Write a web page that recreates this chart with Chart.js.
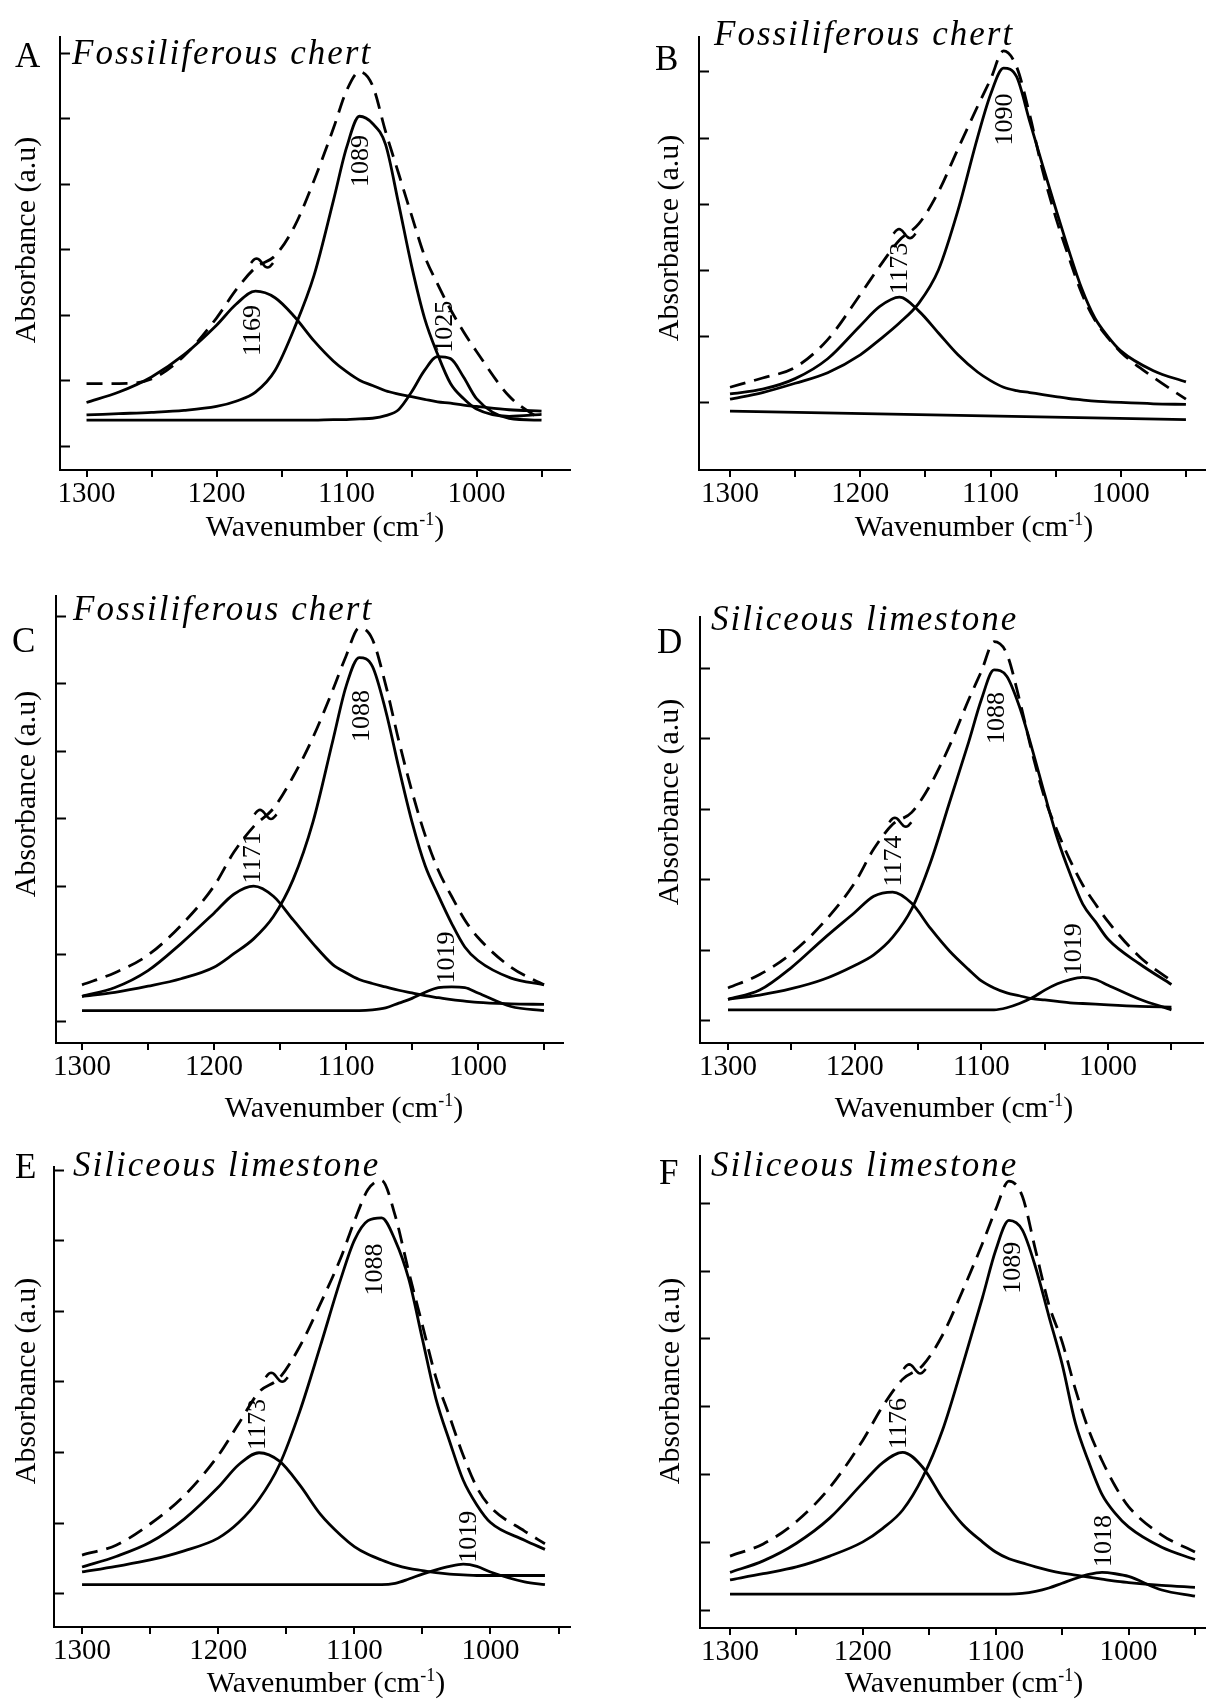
<!DOCTYPE html>
<html>
<head>
<meta charset="utf-8">
<script src="https://cdn.jsdelivr.net/npm/chart.js@4.4.0/dist/chart.umd.min.js"></script>
<style>
  body { margin:0; background:#fff; width:1206px; height:1702px; position:relative; overflow:hidden; }
  canvas { position:absolute; }
</style>
</head>
<body>
<script>
// wavenumber grid (cm-1) the curves were read on
var wave  = [1300,1275,1250,1225,1200,1185,1170,1155,1140,1125,1110,1100,1090,1080,1070,1060,1050,1040,1030,1020,1010,1000,975,950];
var waveE = [1300,1275,1250,1225,1200,1185,1170,1155,1140,1125,1110,1100,1090,1080,1070,1060,1050,1040,1030,1020,1010,1000,975,960];
var xTickValues = [950,1000,1050,1100,1150,1200,1250,1300];

// A - Fossiliferous chert
var envA  = [0.95,0.95,1.02,1.37,1.95,2.38,2.72,2.9,3.35,4.05,4.85,5.42,5.71,5.5,4.8,4.16,3.52,2.9,2.47,2.08,1.74,1.44,0.76,0.39];
var a1089 = [0.47,0.49,0.51,0.54,0.6,0.68,0.82,1.15,1.8,2.6,3.75,4.55,5.03,4.92,4.6,3.7,2.75,1.95,1.4,0.95,0.72,0.56,0.45,0.48];
var a1169 = [0.66,0.82,1.05,1.39,1.84,2.16,2.36,2.26,1.97,1.6,1.29,1.13,1.0,0.92,0.84,0.79,0.75,0.71,0.67,0.65,0.62,0.6,0.55,0.53];
var a1025 = [0.39,0.39,0.39,0.39,0.39,0.39,0.39,0.39,0.39,0.39,0.4,0.4,0.41,0.42,0.46,0.55,0.82,1.15,1.36,1.33,1.05,0.72,0.42,0.39];

// B - Fossiliferous chert
var envB  = [0.23,0.37,0.53,0.95,1.63,2.06,2.45,2.7,3.18,3.83,4.47,4.88,5.31,5.07,4.35,3.5,2.8,2.2,1.65,1.25,0.98,0.76,0.38,0.05];
var b1090 = [0.05,0.15,0.29,0.45,0.72,0.95,1.2,1.5,2.0,2.9,4.0,4.65,5.05,4.92,4.25,3.58,2.93,2.3,1.72,1.28,1.0,0.78,0.48,0.31];
var b1173 = [0.13,0.2,0.36,0.66,1.16,1.45,1.59,1.38,1.05,0.72,0.46,0.33,0.23,0.18,0.15,0.12,0.09,0.06,0.04,0.02,0.01,0.0,-0.02,-0.03];
var baseBWave = [1300,950];
var baseB = [-0.13,-0.26];

// C - Fossiliferous chert
var envC  = [0.54,0.72,0.98,1.42,2.0,2.5,2.88,3.15,3.62,4.2,4.9,5.4,5.82,5.65,4.98,4.15,3.4,2.75,2.23,1.85,1.5,1.24,0.8,0.54];
var c1088 = [0.37,0.43,0.52,0.63,0.8,1.0,1.22,1.55,2.1,2.95,4.15,4.95,5.38,5.25,4.6,3.75,2.95,2.3,1.86,1.45,1.1,0.9,0.64,0.54];
var c1171 = [0.37,0.5,0.75,1.15,1.6,1.88,2.0,1.85,1.5,1.15,0.84,0.72,0.62,0.56,0.51,0.46,0.42,0.38,0.35,0.32,0.3,0.28,0.26,0.25];
var c1019 = [0.16,0.16,0.16,0.16,0.16,0.16,0.16,0.16,0.16,0.16,0.16,0.16,0.16,0.17,0.2,0.27,0.34,0.43,0.5,0.51,0.5,0.42,0.22,0.16];

// D - Siliceous limestone
var envD  = [0.46,0.65,0.95,1.38,1.95,2.43,2.78,2.95,3.35,3.9,4.55,4.95,5.37,5.2,4.55,3.8,3.15,2.68,2.27,1.92,1.65,1.4,0.9,0.56];
var d1088 = [0.3,0.36,0.45,0.58,0.78,0.93,1.18,1.58,2.25,3.1,3.95,4.55,4.97,4.88,4.45,3.85,3.2,2.58,2.08,1.65,1.4,1.15,0.8,0.51];
var d1174 = [0.3,0.43,0.75,1.15,1.53,1.76,1.82,1.66,1.3,0.98,0.72,0.56,0.46,0.39,0.35,0.31,0.29,0.27,0.25,0.24,0.23,0.22,0.2,0.19];
var d1019 = [0.15,0.15,0.15,0.15,0.15,0.15,0.15,0.15,0.15,0.15,0.15,0.15,0.15,0.18,0.24,0.32,0.43,0.52,0.58,0.61,0.58,0.5,0.3,0.15];

// E - Siliceous limestone
var envE  = [0.54,0.68,0.98,1.38,1.95,2.4,2.85,3.05,3.5,4.1,4.75,5.27,5.72,5.85,5.35,4.55,3.8,3.05,2.5,1.95,1.5,1.22,0.88,0.7];
var e1088 = [0.3,0.38,0.47,0.6,0.78,1.0,1.33,1.82,2.58,3.5,4.45,5.0,5.28,5.32,5.0,4.45,3.6,2.75,2.15,1.6,1.25,1.0,0.75,0.62];
var e1173 = [0.37,0.52,0.72,1.05,1.5,1.82,1.99,1.87,1.53,1.12,0.82,0.66,0.55,0.47,0.4,0.35,0.32,0.29,0.27,0.26,0.25,0.25,0.25,0.25];
var e1019 = [0.12,0.12,0.12,0.12,0.12,0.12,0.12,0.12,0.12,0.12,0.12,0.12,0.12,0.12,0.14,0.2,0.27,0.33,0.38,0.41,0.38,0.3,0.16,0.12];

// F - Siliceous limestone
var envF  = [0.79,0.97,1.3,1.8,2.5,3.0,3.4,3.6,4.05,4.7,5.4,5.9,6.32,6.1,5.3,4.5,3.95,3.25,2.65,2.2,1.82,1.52,1.1,0.85];
var f1089 = [0.44,0.53,0.63,0.79,1.0,1.2,1.47,1.95,2.65,3.6,4.6,5.3,5.74,5.6,5.05,4.33,3.62,2.75,2.18,1.7,1.42,1.22,0.92,0.74];
var f1176 = [0.55,0.72,0.98,1.35,1.87,2.17,2.32,2.1,1.64,1.26,1.0,0.85,0.75,0.69,0.63,0.58,0.54,0.51,0.48,0.45,0.42,0.4,0.36,0.33];
var f1018 = [0.23,0.23,0.23,0.23,0.23,0.23,0.23,0.23,0.23,0.23,0.23,0.23,0.23,0.24,0.27,0.32,0.39,0.46,0.52,0.55,0.53,0.49,0.29,0.2];

// layout of each panel (page pixels) and annotation anchors
var panels = [
  {letter:'A', title:'Fossiliferous chert', cell:[0,0,603,560], area:[60,570,37,470], xr:[928.1,1320.4], yr:[-0.37,6.24], nTicks:6,
   wave:wave, env:envA, comps:[a1089,a1169,a1025], base:null,
   peaks:[['1089',1089,3.95],['1169',1172,1.37],['1025',1024,1.42]], tilde:[1165,2.79],
   letterPos:[15,67], titlePos:[72,64], yTitle:[27,240], xTitle:[325,536]},
  {letter:'B', title:'Fossiliferous chert', cell:[603,0,603,560], area:[699,1206,37,470], xr:[934.6,1323.8], yr:[-1.02,5.52], nTicks:5,
   wave:wave, env:envB, comps:[b1090,b1173], base:[baseBWave,baseB],
   peaks:[['1090',1089,3.88],['1173',1169,1.64]], tilde:[1166,2.55],
   letterPos:[655,70], titlePos:[714,45], yTitle:[670,238], xTitle:[974,536]},
  {letter:'C', title:'Fossiliferous chert', cell:[0,560,603,570], area:[56,563,596,1043], xr:[935.6,1319.7], yr:[-0.32,6.29], nTicks:6,
   wave:wave, env:envC, comps:[c1088,c1171,c1019], base:null,
   peaks:[['1088',1088,4.13],['1171',1170,2.04],['1019',1023,0.56]], tilde:[1161,3.06],
   letterPos:[12,652], titlePos:[73,620], yTitle:[27,794], xTitle:[344,1117]},
  {letter:'D', title:'Siliceous limestone', cell:[603,560,603,570], area:[700,1203,617,1043], xr:[925.1,1322.1], yr:[-0.32,5.72], nTicks:5,
   wave:wave, env:envD, comps:[d1088,d1174,d1019], base:null,
   peaks:[['1088',1087.5,3.92],['1174',1169,1.9],['1019',1027,0.64]], tilde:[1164,2.81],
   letterPos:[657,653], titlePos:[711,630], yTitle:[670,802], xTitle:[954,1117]},
  {letter:'E', title:'Siliceous limestone', cell:[0,1130,603,572], area:[54,570,1167,1627], xr:[941.6,1320.6], yr:[-0.48,6.04], nTicks:6,
   wave:waveE, env:envE, comps:[e1088,e1173,e1019], base:null,
   peaks:[['1088',1085,4.22],['1173',1171,2.03],['1019',1016,0.43]], tilde:[1157,3.06],
   letterPos:[15,1178], titlePos:[73,1176], yTitle:[27,1381], xTitle:[326,1692]},
  {letter:'F', title:'Siliceous limestone', cell:[603,1130,603,572], area:[700,1206,1156,1628], xr:[941.7,1322.6], yr:[-0.27,6.69], nTicks:6,
   wave:wave, env:envF, comps:[f1089,f1176,f1018], base:null,
   peaks:[['1089',1087,4.66],['1176',1173,2.37],['1018',1018,0.63]], tilde:[1161,3.55],
   letterPos:[659,1184], titlePos:[711,1176], yTitle:[671,1381], xTitle:[964,1692]}
];

var SERIF = '"Liberation Serif", "Times New Roman", serif';
Chart.defaults.font.family = SERIF;
Chart.defaults.color = '#000';

function pts(w, v) {
  return w.map(function(x, i) { return {x: x, y: v[i]}; });
}

function makeDecor(p) {
  return {
    id: 'decor',
    afterDraw: function(chart) {
      var ctx = chart.ctx, xs = chart.scales.x, ys = chart.scales.y;
      var ox = p.cell[0], oy = p.cell[1];
      ctx.save();
      ctx.fillStyle = '#000';
      ctx.strokeStyle = '#000';

      // inward ticks on the y axis
      ctx.lineWidth = 2;
      ys.ticks.forEach(function(t) {
        var y = Math.round(ys.getPixelForValue(t.value)) + 0.5;
        ctx.beginPath();
        ctx.moveTo(chart.chartArea.left, y);
        ctx.lineTo(chart.chartArea.left + 10, y);
        ctx.stroke();
      });

      // panel letter and sample name
      ctx.textAlign = 'left';
      ctx.textBaseline = 'alphabetic';
      ctx.font = '35px ' + SERIF;
      ctx.fillText(p.letter, p.letterPos[0] - ox, p.letterPos[1] - oy);
      ctx.font = 'italic 35px ' + SERIF;
      ctx.letterSpacing = '2px';
      ctx.fillText(p.title, p.titlePos[0] - ox, p.titlePos[1] - oy);
      ctx.letterSpacing = '0px';

      // y axis title
      ctx.save();
      ctx.translate(p.yTitle[0] - ox, p.yTitle[1] - oy);
      ctx.rotate(-Math.PI / 2);
      ctx.font = '30px ' + SERIF;
      ctx.textAlign = 'center';
      ctx.textBaseline = 'middle';
      ctx.fillText('Absorbance (a.u)', 0, 0);
      ctx.restore();

      // x axis title with superscript -1
      var big = '30px ' + SERIF, sm = '18px ' + SERIF;
      ctx.font = big;
      var s1 = 'Wavenumber (cm', s3 = ')';
      var w1 = ctx.measureText(s1).width, w3 = ctx.measureText(s3).width;
      ctx.font = sm;
      var w2 = ctx.measureText('-1').width;
      var x0 = p.xTitle[0] - ox - (w1 + w2 + w3) / 2, yb = p.xTitle[1] - oy;
      ctx.font = big;
      ctx.fillText(s1, x0, yb);
      ctx.font = sm;
      ctx.fillText('-1', x0 + w1, yb - 11);
      ctx.font = big;
      ctx.fillText(s3, x0 + w1 + w2, yb);

      // peak position labels, rotated
      ctx.font = '26px ' + SERIF;
      p.peaks.forEach(function(pk) {
        ctx.save();
        ctx.translate(xs.getPixelForValue(pk[1]), ys.getPixelForValue(pk[2]));
        ctx.rotate(-Math.PI / 2);
        ctx.textAlign = 'left';
        ctx.textBaseline = 'middle';
        ctx.fillText(pk[0], 0, 0);
        ctx.restore();
      });

      // shoulder mark (~) on the envelope
      var tx = xs.getPixelForValue(p.tilde[0]), ty = ys.getPixelForValue(p.tilde[1]);
      ctx.lineWidth = 2.6;
      ctx.beginPath();
      for (var i = 0; i <= 24; i++) {
        var t = i / 24;
        var px = tx - 11 + 22 * t, py = ty - 4.5 * Math.sin(2 * Math.PI * t);
        if (i === 0) ctx.moveTo(px, py); else ctx.lineTo(px, py);
      }
      ctx.stroke();
      ctx.restore();
    }
  };
}

panels.forEach(function(p) {
  var cv = document.createElement('canvas');
  cv.width = p.cell[2];
  cv.height = p.cell[3];
  cv.style.left = p.cell[0] + 'px';
  cv.style.top = p.cell[1] + 'px';
  cv.style.width = p.cell[2] + 'px';
  cv.style.height = p.cell[3] + 'px';
  document.body.appendChild(cv);

  var line = {borderColor:'#000', borderWidth:2.8, pointRadius:0, fill:false, cubicInterpolationMode:'monotone'};
  var ds = [Object.assign({data: pts(p.wave, p.env), borderDash:[16, 9]}, line)];
  p.comps.forEach(function(c) { ds.push(Object.assign({data: pts(p.wave, c)}, line)); });
  if (p.base) ds.push(Object.assign({data: pts(p.base[0], p.base[1])}, line));

  var yTickVals = [];
  for (var k = 0; k <= p.nTicks; k++) yTickVals.push(k);

  var cell = p.cell, area = p.area;
  new Chart(cv.getContext('2d'), {
    type: 'line',
    data: {datasets: ds},
    options: {
      responsive: false,
      animation: false,
      layout: {padding: {left: 0, top: area[2] - cell[1], right: cell[0] + cell[2] - area[1], bottom: 0}},
      plugins: {legend: {display: false}, tooltip: {enabled: false}},
      scales: {
        x: {
          type: 'linear', reverse: true, min: p.xr[0], max: p.xr[1],
          afterBuildTicks: function(s) { s.ticks = xTickValues.map(function(v) { return {value: v}; }); },
          afterFit: function(s) { s.height = cell[1] + cell[3] - area[3]; },
          border: {display: true, color: '#000', width: 2},
          grid: {drawOnChartArea: false, drawTicks: true, tickLength: 7, color: '#000', lineWidth: 2},
          ticks: {
            color: '#000', font: {family: SERIF, size: 29}, padding: 0,
            maxRotation: 0, autoSkip: false,
            callback: function(v) { return v % 100 === 0 ? String(v) : ''; }
          }
        },
        y: {
          type: 'linear', min: p.yr[0], max: p.yr[1],
          afterBuildTicks: function(s) { s.ticks = yTickVals.map(function(v) { return {value: v}; }); },
          afterFit: function(s) { s.width = area[0] - cell[0]; },
          border: {display: true, color: '#000', width: 2},
          grid: {display: false},
          ticks: {display: false}
        }
      }
    },
    plugins: [makeDecor(p)]
  });
});
</script>
</body>
</html>
